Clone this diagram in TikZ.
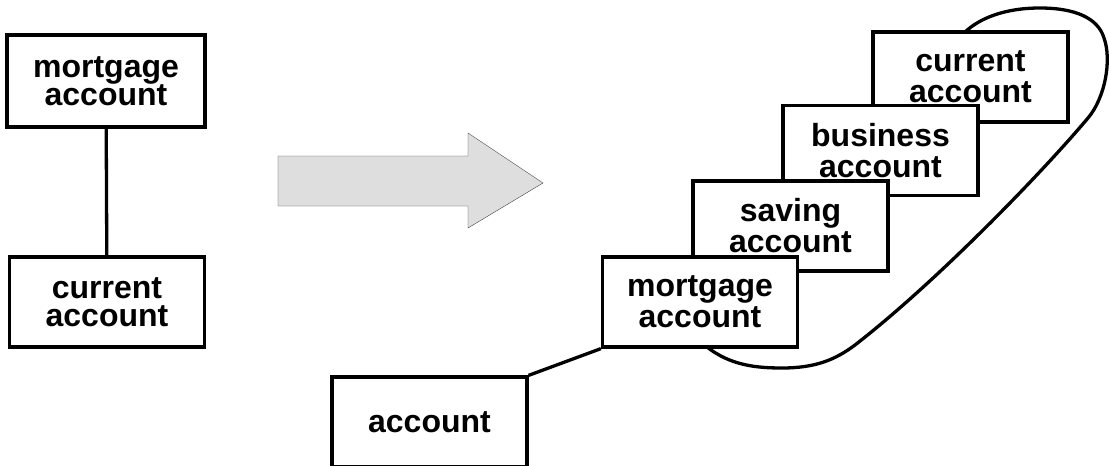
\documentclass[tikz,border=0pt]{standalone}
\usepackage{fontspec}
\setmainfont{Liberation Sans}

\begin{document}
\begin{tikzpicture}[
                x=1pt, y=-1pt,
                box/.style={draw=black, line width=3.3pt, fill=white,
                    minimum width=195pt, minimum height=90pt, inner sep=0pt,
                    align=center, font=\fontsize{32}{28}\selectfont\bfseries},
                stackbox/.style={box, font=\fontsize{32}{31}\selectfont\bfseries},
                link/.style={draw=black, line width=3.3pt} ]

            \useasboundingbox (0,0) rectangle (1109,466);

            \node[box, minimum width=198pt, minimum height=92pt] (mortLeft) at (106,81) {mortgage\\account};
            \node[box] (curLeft) at (107,302) {current\\account};
            \draw[link] (mortLeft) -- (curLeft);

            \filldraw[draw=black!75, fill=black!13, thin]
            (278,156) -- (468,156) -- (468,133) -- (543,183)
            -- (468,228) -- (468,206) -- (278,206) -- cycle;

            \draw[link] (707,347) .. controls (730,365) and (755,368) .. (782,368)
            .. controls (815,368) and (835,360) .. (855,345)
            .. controls (935,283) and (1040,175) .. (1088,118)
            .. controls (1105,98) and (1112,60) .. (1104,38)
            .. controls (1098,18) and (1075,8) .. (1040,8)
            .. controls (1005,8) and (980,18) .. (965,32);

            \node[stackbox] (cur) at (970.5,77) {current\\account};
            \node[stackbox] (bus) at (880.5,150.5) {business\\account};
            \node[stackbox] (sav) at (790.5,226) {saving\\account};
            \node[stackbox] (mort) at (700,302) {mortgage\\account};
            \node[box] (acc) at (429.5,422) {account};

            \draw[link] (acc.north east) -- (mort.south west);
        \end{tikzpicture}
\end{document}
